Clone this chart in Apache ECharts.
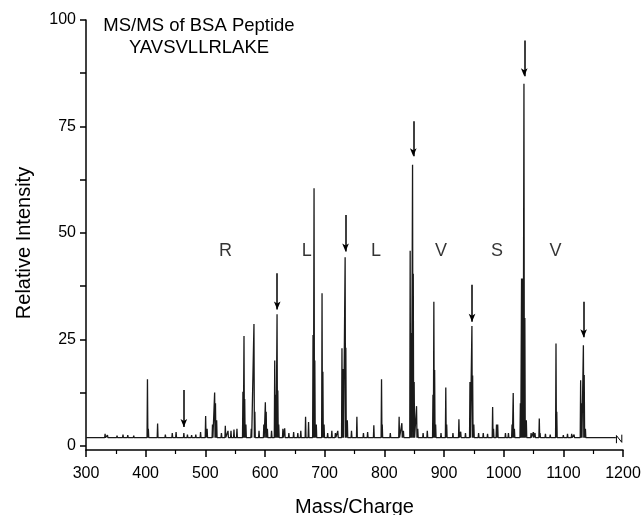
<!DOCTYPE html>
<html>
<head>
<meta charset="utf-8">
<script src="https://cdn.jsdelivr.net/npm/echarts@6/dist/echarts.min.js"></script>
<style>
html,body{margin:0;padding:0;background:#fff;}
#chart{width:642px;height:515px;}
</style>
</head>
<body>
<div id="chart"></div>
<script>
// ---- data ----
const peakMz = [
  332, 336, 352, 362, 370, 380, 392, 403, 404.5, 420, 433, 444.6, 451, 464, 470, 477, 484, 492,
  500.5, 503, 512, 515.6, 517, 519, 527, 533.5, 538, 543, 548, 553,
  563, 564.8, 566, 568, 577, 581.5, 583, 590, 598, 600.6, 602, 604, 611,
  616.3, 618, 620.2, 621.5, 623, 630, 633, 640, 648, 655, 660, 668, 673,
  680.5, 682.2, 683.5, 686, 695.6, 697, 699, 705, 712, 718, 722,
  729, 731, 734.3, 735.5, 738, 745, 754, 765, 772,
  782.4, 795.3, 796.5, 810, 824.8, 829.4, 832,
  843.3, 845, 847.3, 848.5, 850, 854, 856, 865, 872,
  881.5, 883, 884.3, 886, 895, 903, 904.5, 915, 925, 928, 936,
  943.5, 946.8, 948, 950, 958, 965.8, 973, 981.5, 983, 988, 990,
  1003, 1008, 1014, 1016, 1018, 1028, 1030, 1032, 1034, 1035.5, 1038,
  1046, 1049.7, 1052.5, 1059.7, 1061, 1070, 1078, 1087.7, 1089,
  1100, 1107, 1114, 1118, 1129, 1130.5, 1133.6, 1135, 1137, 1145, 1160, 1175, 1185
];
const peakIntensity = [
  2.8, 2.5, 2.4, 2.6, 2.5, 2.4, 2.3, 15.6, 4, 5.2, 2.6, 3.0, 3.2, 3.0, 2.6, 2.5, 2.6, 3.2,
  7.0, 4, 5, 12.5, 10, 6, 3, 4.7, 3.5, 3.5, 3.8, 4,
  12.7, 25.8, 11, 5, 4, 28.6, 8, 3.5, 5, 10.2, 8, 4, 3.5,
  20, 12, 30.9, 13, 5, 4, 4.1, 3, 3.2, 3, 3.5, 6.8, 5.6,
  26, 60.5, 20, 5, 35.8, 17.4, 5, 3, 3.5, 3, 3.5,
  22.9, 18, 44.3, 23, 6, 3.5, 6.8, 3.0, 3.2,
  4.8, 15.6, 5, 3, 6.8, 5.3, 3.5,
  45.8, 26.5, 66, 40.4, 15, 9.3, 4, 3, 3.5,
  12, 33.8, 17.8, 5, 3, 13.7, 5, 3, 6.2, 3.3, 3,
  15, 28.1, 16.5, 5, 3, 3, 2.8, 9.1, 4, 5, 5,
  3, 3, 5, 12.4, 4, 10, 39.3, 39.3, 85, 30, 6,
  3, 3.2, 3, 6.4, 3, 2.8, 2.6, 24, 8,
  2.5, 2.8, 2.8, 2.6, 15.4, 10, 23.6, 16.6, 4, 2.3, 2.2, 2.2, 2.0
];
const baselineLevel = 1.9;
const traceStartMz = 300;
const traceEndMz = 1188;

const arrowMz   = [464, 620.5, 735, 848.5, 947, 1034.5, 1134];
const arrowFrom = [13.1, 40.5, 54.2, 76.2, 37.8, 95.2, 33.8];
const arrowTo   = [4.4, 32.0, 45.6, 68.0, 29.1, 86.8, 25.5];

const residueLabels = ['R', 'L', 'L', 'V', 'S', 'V'];
const residueMz = [534, 670, 786, 895, 989, 1087];
const residueIntensity = [45.8, 45.8, 45.8, 45.8, 45.8, 45.8];

const breakMarkMz = [1189, 1189, 1198, 1198];
const breakMarkI  = [0.6, 2.4, 0.8, 2.6];

const yTickValues = [0, 25, 50, 75, 100];
const yTickMarks = [0, 12.5, 25, 37.5, 50, 62.5, 75, 87.5, 100];

const titleLines = ['MS/MS of BSA Peptide', 'YAVSVLLRLAKE'];
const xAxisTitle = 'Mass/Charge';
const yAxisTitle = 'Relative Intensity';

// ---- build the trace from the peak list ----
const pairs = peakMz.map((m, i) => [m, peakIntensity[i]]).sort((a, b) => a[0] - b[0]);
const halfWidth = 0.7;
const trace = [[traceStartMz, baselineLevel]];
pairs.forEach(([m, v]) => {
  trace.push([m - halfWidth, baselineLevel], [m, v], [m + halfWidth, baselineLevel]);
});
trace.push([traceEndMz, baselineLevel]);

const arrowData = arrowMz.map((m, i) => [{ coord: [m, arrowFrom[i]] }, { coord: [m, arrowTo[i]] }]);
const residueData = residueMz.map((m, i) => ({ value: [m, residueIntensity[i]], name: residueLabels[i] }));
const breakData = breakMarkMz.map((m, i) => [m, breakMarkI[i]]);

const FONT = '"Liberation Sans", Arial, Helvetica, sans-serif';

const chart = echarts.init(document.getElementById('chart'), null, { renderer: 'canvas' });
chart.setOption({
  animation: false,
  backgroundColor: '#fff',
  title: {
    text: titleLines.join('\n'),
    left: 199,
    top: 15,
    padding: 0,
    textAlign: 'center',
    textStyle: { fontFamily: FONT, fontSize: 18.5, fontWeight: 'normal', color: '#000', lineHeight: 22 }
  },
  grid: { left: 86, right: 19, top: 20, bottom: 65, containLabel: false, outerBoundsMode: 'none' },
  xAxis: {
    type: 'value',
    min: 300, max: 1200, interval: 100,
    name: xAxisTitle,
    nameLocation: 'middle',
    nameGap: 47,
    nameTextStyle: { fontFamily: FONT, fontSize: 20, color: '#000' },
    axisLine: { show: true, onZero: false, lineStyle: { color: '#000', width: 1.5 } },
    axisTick: { show: true, inside: false, length: 7, lineStyle: { color: '#000', width: 1.5 } },
    minorTick: { show: true, splitNumber: 2, length: 4, lineStyle: { color: '#000', width: 1.2 } },
    axisLabel: { fontFamily: FONT, fontSize: 16, color: '#000', margin: 16, formatter: v => String(v) },
    splitLine: { show: false }
  },
  yAxis: {
    type: 'value',
    min: -1, max: 100,
    name: yAxisTitle,
    nameLocation: 'middle',
    nameGap: 52,
    nameTextStyle: { fontFamily: FONT, fontSize: 20, color: '#000', padding: [0, 16, 0, 0] },
    axisLine: { show: true, onZero: false, lineStyle: { color: '#000', width: 1.5 } },
    axisTick: { show: true, inside: false, length: 6, customValues: yTickMarks, lineStyle: { color: '#000', width: 1.5 } },
    axisLabel: { fontFamily: FONT, fontSize: 16, color: '#000', margin: 10, customValues: yTickValues, formatter: v => String(v) },
    splitLine: { show: false }
  },
  series: [
    {
      type: 'line',
      name: 'spectrum',
      data: trace,
      showSymbol: false,
      symbol: 'none',
      lineStyle: { color: '#1a1a1a', width: 1.3 },
      silent: true,
      markLine: {
        silent: true,
        symbol: ['none', 'arrow'],
        symbolSize: [5, 8],
        label: { show: false },
        lineStyle: { color: '#000', width: 1.5, type: 'solid' },
        data: arrowData
      }
    },
    {
      type: 'line',
      name: 'break',
      data: breakData,
      showSymbol: false,
      symbol: 'none',
      lineStyle: { color: '#000', width: 1 },
      silent: true
    },
    {
      type: 'scatter',
      name: 'residues',
      data: residueData,
      symbolSize: 1,
      itemStyle: { color: 'rgba(0,0,0,0)' },
      label: {
        show: true,
        position: 'inside',
        formatter: p => p.name,
        fontFamily: FONT,
        fontSize: 18,
        color: '#000'
      },
      silent: true
    }
  ]
});
</script>
</body>
</html>
